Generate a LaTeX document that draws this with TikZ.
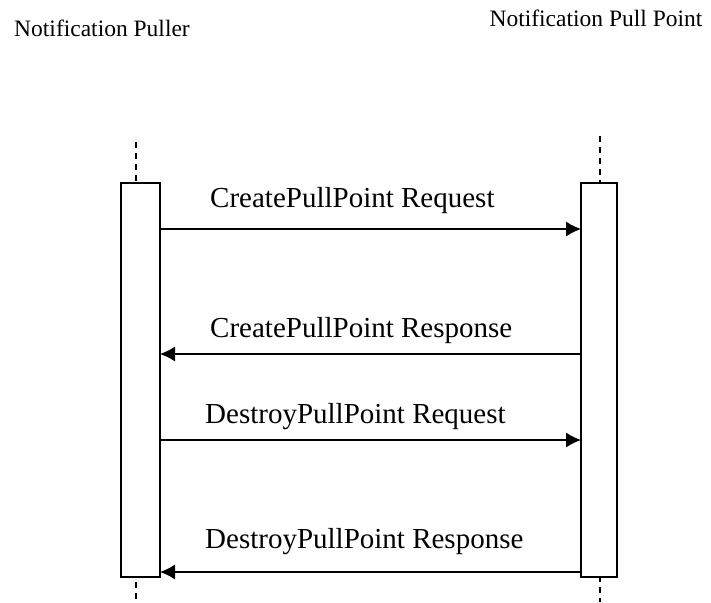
\documentclass[tikz,border=0pt]{standalone}
\usepackage{fontspec}
\setmainfont{Liberation Serif}
\tikzset{
  lifebox/.style={draw, line width=1.5pt, fill=white},
  lifeline/.style={dashed, line width=1.5pt, dash pattern=on 6pt off 5pt},
  msg/.style={-{Latex[length=15pt,width=15pt]}, line width=1.2pt},
  msglabel/.style={font=\fontsize{29}{34}\selectfont, inner sep=0pt, anchor=base west},
  actor/.style={font=\fontsize{23.5}{28}\selectfont, inner sep=0pt, anchor=base}
}
\usetikzlibrary{arrows.meta}
\begin{document}
\begin{tikzpicture}[x=1pt,y=-1pt]
  \useasboundingbox (0,0) rectangle (711,602);
  \draw
    (102,37) node[actor] (puller){Notification Puller}
    (596,27) node[actor] (pullpoint){Notification Pull Point};
  % lifelines
  \coordinate (ltop) at (136,142);
  \coordinate (lbot) at (136,602);
  \coordinate (rtop) at (600,136);
  \coordinate (rbot) at (600,602);
  \draw[lifeline] (ltop) -- (lbot);
  \draw[lifeline] (rtop) -- (rbot);
  \draw[lifebox] (121,183) rectangle (160,577);
  \draw[lifebox] (581,183) rectangle (617,577);
  \coordinate (l1) at (160,229); \coordinate (r1) at (581,229);
  \coordinate (l2) at (160,354); \coordinate (r2) at (581,354);
  \coordinate (l3) at (160,440); \coordinate (r3) at (581,440);
  \coordinate (l4) at (160,572); \coordinate (r4) at (581,572);
  \begin{scope}[msg]
    \draw (l1) to (r1);
    \draw (r2) to (l2);
    \draw (l3) to (r3);
    \draw (r4) to (l4);
  \end{scope}
  \draw
    (210,207) node[msglabel] (createreq){CreatePullPoint Request}
    (210,337) node[msglabel] (createresp){CreatePullPoint Response}
    (205,423) node[msglabel] (destroyreq){DestroyPullPoint Request}
    (205,548) node[msglabel] (destroyresp){DestroyPullPoint Response};
\end{tikzpicture}
\end{document}
